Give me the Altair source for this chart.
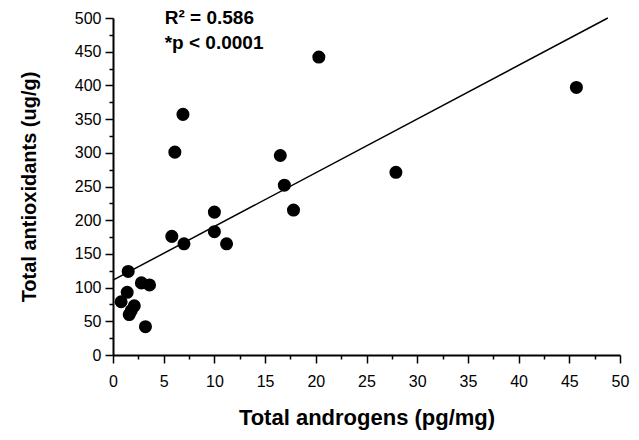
import altair as alt
import pandas as pd

# Scatter data: total androgens (pg/mg) vs total antioxidants (ug/g)
androgens = [0.8, 1.4, 1.5, 1.6, 2.1, 1.8, 2.8, 3.6, 3.2,
             5.8, 6.1, 6.9, 7.0, 10.0, 10.0, 11.2, 16.5, 16.9, 17.8,
             20.3, 27.9, 45.7]
antioxidants = [79, 93, 124, 60, 73, 66, 107, 104, 42,
                176, 301, 357, 165, 212, 183, 165, 296, 252, 215,
                442, 271, 397]

# Regression line end points
fit_x = [0, 48.8]
fit_y = [111, 500]

# Annotation
note_x = [5.1, 5.1]
note_y = [500, 463]
note_text = ["R² = 0.586", "*p < 0.0001"]

x_major = [0, 5, 10, 15, 20, 25, 30, 35, 40, 45, 50]
x_minor = [2.5, 7.5, 12.5, 17.5, 22.5, 27.5, 32.5, 37.5, 42.5, 47.5]
y_major = [0, 50, 100, 150, 200, 250, 300, 350, 400, 450, 500]
y_minor = [25, 75, 125, 175, 225, 275, 325, 375, 425, 475]

pts = pd.DataFrame({"x": androgens, "y": antioxidants})
fit = pd.DataFrame({"x": fit_x, "y": fit_y})
notes = pd.DataFrame({"x": note_x, "y": note_y, "t": note_text})

FONT = "Liberation Sans"
xs = alt.Scale(domain=[0, 50], nice=False, zero=False)
ys = alt.Scale(domain=[0, 500], nice=False, zero=False)

points = alt.Chart(pts).mark_circle(size=170, color="black", opacity=1).encode(
    x=alt.X("x:Q", scale=xs,
            axis=alt.Axis(values=x_major, title="Total androgens (pg/mg)",
                          orient="bottom", grid=False, tickSize=8, tickWidth=1.5,
                          domainWidth=2, domainColor="black", tickColor="black",
                          labelFontSize=16, labelFont=FONT, labelColor="black",
                          labelPadding=10, titleFont=FONT, titleFontSize=22,
                          titleFontWeight="bold", titleColor="black",
                          titlePadding=18, labelFlush=False)),
    y=alt.Y("y:Q", scale=ys,
            axis=alt.Axis(values=y_major, title="Total antioxidants (ug/g)",
                          orient="left", grid=False, tickSize=8, tickWidth=1.5,
                          domainWidth=2, domainColor="black", tickColor="black",
                          labelFontSize=16, labelFont=FONT, labelColor="black",
                          labelPadding=4, titleFont=FONT, titleFontSize=20,
                          titleFontWeight="bold", titleColor="black",
                          titlePadding=35, labelFlush=False)),
)

line = alt.Chart(fit).mark_line(color="black", strokeWidth=1.5).encode(
    x=alt.X("x:Q", scale=xs,
            axis=alt.Axis(values=x_minor, labels=False, domain=False, grid=False,
                          orient="bottom", tickSize=4, tickWidth=1.5,
                          tickColor="black", title="")),
    y=alt.Y("y:Q", scale=ys,
            axis=alt.Axis(values=y_minor, labels=False, domain=False, grid=False,
                          orient="left", tickSize=4, tickWidth=1.5,
                          tickColor="black", title="")),
)

text = alt.Chart(notes).mark_text(align="left", baseline="middle", font=FONT,
                                  fontSize=19, fontWeight="bold",
                                  color="black").encode(
    x=alt.X("x:Q", scale=xs, axis=None),
    y=alt.Y("y:Q", scale=ys, axis=None),
    text="t:N",
)

chart = alt.layer(points, line, text).resolve_axis(
    x="independent", y="independent"
).properties(
    width=507, height=337,
    autosize=alt.AutoSizeParams(type="none"),
    padding={"left": 105, "top": 10, "right": 11, "bottom": 77},
    background="white",
).configure_view(stroke=None)

chart.save("out.html", embed_options={"renderer": "svg", "actions": False})
